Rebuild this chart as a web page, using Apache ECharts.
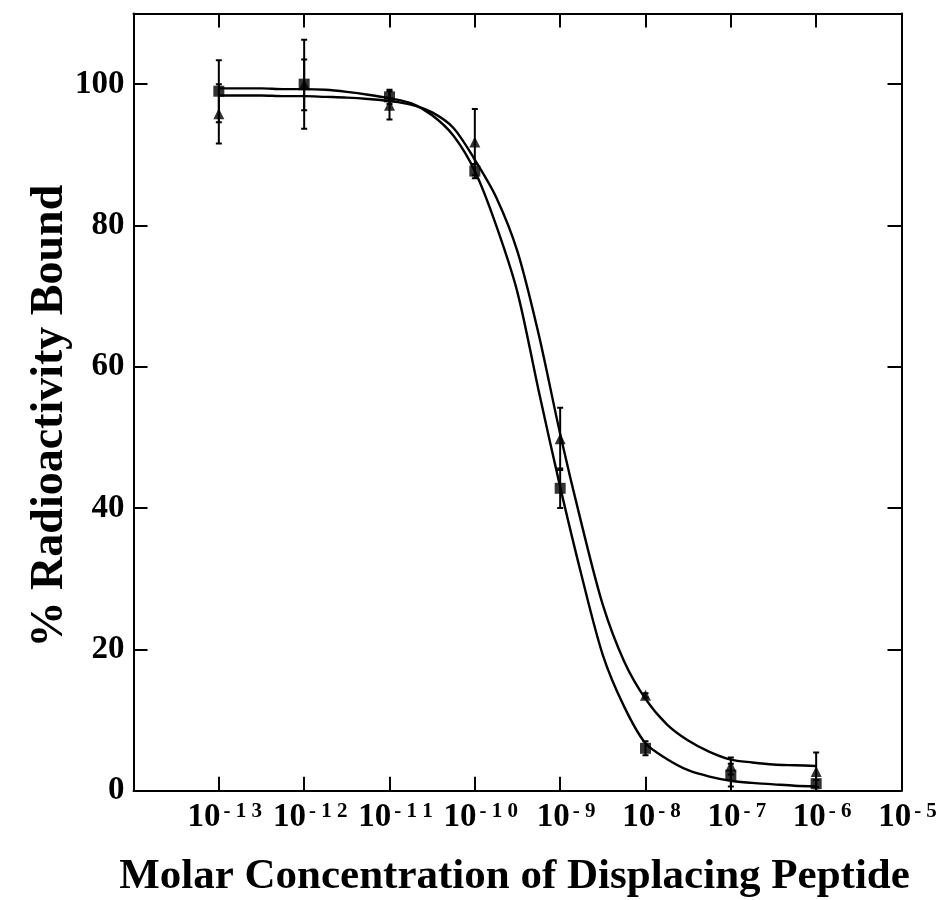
<!DOCTYPE html>
<html><head><meta charset="utf-8">
<script src="https://cdn.jsdelivr.net/npm/echarts@6/dist/echarts.min.js"></script>
<style>html,body{margin:0;padding:0;background:#fff}#c{width:942px;height:900px}</style>
</head><body><div id="c"></div>
<script>
// ---- data ----
const xTickExponents = [-14, -13, -12, -11, -10, -9, -8, -7, -6, -5];
const xTickLabels = ['', '-13', '-12', '-11', '-10', '-9', '-8', '-7', '-6', '-5'];
const yTickValues = [0, 20, 40, 60, 80, 100];

const concentrations = [1e-13, 1e-12, 1e-11, 1e-10, 1e-9, 1e-8, 1e-7, 1e-6];
const squareMeans   = [99.0, 100.0, 98.2, 87.7, 42.8, 6.0, 2.2, 1.0];
const squareErrors  = [4.4, 6.3, 1.0, 1.0, 2.8, 1.0, 1.6, 0.5];
const triangleMeans = [95.8, 99.9, 97.0, 91.8, 49.8, 13.5, 3.5, 2.7];
const triangleErrors= [4.2, 3.6, 2.0, 4.7, 4.4, 0.3, 1.2, 2.7];

// fitted curves, every quarter decade (log10 of concentration, % bound)
const fitLogX = [-13, -12.75, -12.5, -12.25, -12, -11.75, -11.5, -11.25, -11, -10.75, -10.5, -10.25, -10,
                 -9.75, -9.5, -9.25, -9, -8.75, -8.5, -8.25, -8, -7.75, -7.5, -7.25, -7, -6.75, -6.5, -6.25, -6];
const squareFitY   = [99.4, 99.4, 99.4, 99.3, 99.3, 99.2, 98.9, 98.5, 98.0, 97.3, 95.6, 92.7, 87.7,
                      80.0, 70.5, 56.5, 43.0, 30.5, 19.2, 11.9, 6.7, 4.5, 2.9, 2.0, 1.4, 1.1, 0.9, 0.7, 0.6];
const triangleFitY = [98.4, 98.4, 98.4, 98.3, 98.3, 98.2, 98.1, 97.9, 97.6, 97.1, 96.0, 93.8, 89.3,
                      84.0, 76.3, 64.5, 50.5, 37.8, 26.3, 18.3, 13.0, 9.4, 7.1, 5.5, 4.4, 4.0, 3.7, 3.6, 3.5];

// ---- build ----
const FONT = 'Liberation Serif';
const pts = (xs, ys) => xs.map((x, i) => [x, ys[i]]);
const fitPts = (lx, ys) => lx.map((l, i) => [Math.pow(10, l), ys[i]]);
const errPts = (m, e) => concentrations.map((x, i) => [x, Math.max(0, m[i] - e[i]), m[i] + e[i]]);

function errRender(params, api) {
  const x = api.value(0), lo = api.value(1), hi = api.value(2);
  const top = api.coord([x, hi]), bot = api.coord([x, lo]);
  const cw = 3;
  const style = { stroke: '#000', lineWidth: 2 };
  return { type: 'group', children: [
    { type: 'line', shape: { x1: top[0], y1: top[1], x2: bot[0], y2: bot[1] }, style },
    { type: 'line', shape: { x1: top[0] - cw, y1: top[1], x2: top[0] + cw, y2: top[1] }, style },
    { type: 'line', shape: { x1: bot[0] - cw, y1: bot[1], x2: bot[0] + cw, y2: bot[1] }, style }
  ]};
}

function xLabel(v) {
  const e = Math.round(Math.log10(v));
  const idx = xTickExponents.indexOf(e);
  const s = idx >= 0 ? xTickLabels[idx] : '';
  if (!s) return '';
  return '{b|10}{s|' + s.split('').join(' ') + '}';
}

const axisLineStyle = { color: '#000', width: 2 };
const tickStyle = { color: '#000', width: 2 };

const chart = echarts.init(document.getElementById('c'), null, { renderer: 'canvas' });
chart.setOption({
  animation: false,
  backgroundColor: '#fff',
  grid: { left: 133.5, top: 13.5, right: 40.5, bottom: 109.3, containLabel: false, outerBoundsMode: 'none' },
  xAxis: [{
    type: 'log', logBase: 10, min: 1e-14, max: 1e-5, interval: 1,
    position: 'bottom',
    axisLine: { onZero: false, lineStyle: axisLineStyle },
    axisTick: { inside: true, length: 14, lineStyle: tickStyle },
    minorTick: { show: false }, splitLine: { show: false },
    axisLabel: {
      formatter: xLabel, margin: 10, color: '#000',
      rich: {
        b: { fontFamily: FONT, fontWeight: 'bold', fontSize: 33, lineHeight: 33, color: '#000', padding: [0, 0, 0, 12] },
        s: { fontFamily: FONT, fontWeight: 'bold', fontSize: 21, lineHeight: 21, color: '#000', verticalAlign: 'top', padding: [0, 0, 0, 3] }
      }
    },
    name: 'Molar Concentration of Displacing Peptide',
    nameLocation: 'middle', nameGap: 65, nameMoveOverlap: false,
    nameTextStyle: { fontFamily: FONT, fontWeight: 'bold', fontSize: 43, color: '#000', padding: [0, 6, 0, 0] }
  }, {
    type: 'log', logBase: 10, min: 1e-14, max: 1e-5, interval: 1,
    position: 'top',
    axisLine: { onZero: false, lineStyle: axisLineStyle },
    axisTick: { inside: true, length: 14, lineStyle: tickStyle },
    axisLabel: { show: false }, splitLine: { show: false }
  }],
  yAxis: [{
    type: 'value', min: 0, max: 110, interval: 20,
    axisLine: { show: true, onZero: false, lineStyle: axisLineStyle },
    axisTick: { show: true, inside: true, length: 14, lineStyle: tickStyle },
    splitLine: { show: false },
    axisLabel: {
      margin: 9, color: '#000', fontFamily: FONT, fontWeight: 'bold', fontSize: 33,
      formatter: v => (yTickValues.indexOf(v) >= 0 ? String(v) : '')
    },
    name: '% Radioactivity Bound', nameLocation: 'middle', nameGap: 60, nameRotate: 90, nameMoveOverlap: false,
    nameTextStyle: { fontFamily: FONT, fontWeight: 'bold', fontSize: 46, color: '#000', padding: [0, 28, 0, 0] }
  }, {
    type: 'value', min: 0, max: 110, interval: 20, position: 'right',
    axisLine: { show: true, onZero: false, lineStyle: axisLineStyle },
    axisTick: { show: true, inside: true, length: 14, lineStyle: tickStyle },
    splitLine: { show: false }, axisLabel: { show: false }
  }],
  series: [
    { type: 'line', data: fitPts(fitLogX, squareFitY), smooth: 0.3,
      showSymbol: false, lineStyle: { color: '#000', width: 2.4 }, z: 2 },
    { type: 'line', data: fitPts(fitLogX, triangleFitY), smooth: 0.3,
      showSymbol: false, lineStyle: { color: '#000', width: 2.4 }, z: 2 },
    { type: 'custom', renderItem: errRender, data: errPts(squareMeans, squareErrors),
      encode: { x: 0, y: [1, 2] }, clip: true, z: 3 },
    { type: 'custom', renderItem: errRender, data: errPts(triangleMeans, triangleErrors),
      encode: { x: 0, y: [1, 2] }, clip: true, z: 3 },
    { type: 'scatter', data: pts(concentrations, squareMeans), symbol: 'rect', symbolSize: 11,
      itemStyle: { color: '#000' }, z: 4 },
    { type: 'scatter', data: pts(concentrations, triangleMeans), symbol: 'triangle', symbolSize: [11, 11],
      itemStyle: { color: '#000' }, z: 4 }
  ]
});
</script>
</body></html>
